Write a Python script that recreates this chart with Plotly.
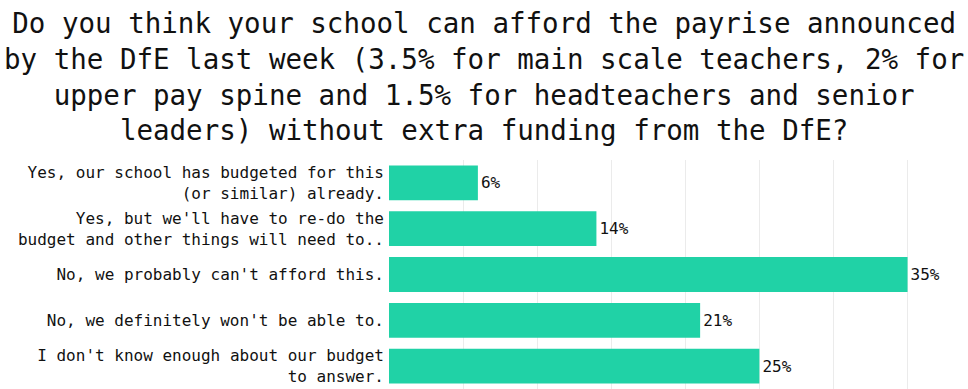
import plotly.graph_objects as go

# Survey answers (top to bottom) and share of respondents, in percent
answers = [
    "Yes, our school has budgeted for this<br>(or similar) already.",
    "Yes, but we'll have to re-do the<br>budget and other things will need to..",
    "No, we probably can't afford this.",
    "No, we definitely won't be able to.",
    "I don't know enough about our budget<br>to answer.",
]
shares = [6, 14, 35, 21, 25]

question = (
    "Do you think your school can afford the payrise announced<br>"
    "by the DfE last week (3.5% for main scale teachers, 2% for<br>"
    "upper pay spine and 1.5% for headteachers and senior<br>"
    "leaders) without extra funding from the DfE?"
)

MONO = "DejaVu Sans Mono, Liberation Mono, monospace"
W, H = 968, 389
M_L, M_R, M_T, M_B = 389, 16, 160, 0

fig = go.Figure(
    go.Bar(
        x=shares,
        y=answers,
        orientation="h",
        marker=dict(color="#20d2a6", line=dict(width=0)),
        texttemplate="%{x}%",
        textposition="outside",
        cliponaxis=False,
        textfont=dict(family=MONO, size=16, color="#111111"),
        hoverinfo="skip",
    )
)

# Question heading, centred on the whole page above the plot area
plot_w = W - M_L - M_R
plot_h = H - M_T - M_B
fig.add_annotation(
    text=question,
    xref="paper",
    yref="paper",
    x=(W / 2 - M_L) / plot_w,
    y=(H - M_B - 5) / plot_h,
    xanchor="center",
    yanchor="top",
    align="center",
    showarrow=False,
    font=dict(family=MONO, size=27.5, color="#111111"),
)

fig.update_layout(
    width=W,
    height=H,
    margin=dict(l=M_L, r=M_R, t=M_T, b=M_B),
    paper_bgcolor="white",
    plot_bgcolor="white",
    bargap=0.24,
    showlegend=False,
    font=dict(family=MONO, color="#111111"),
    xaxis=dict(
        range=[0, 38],
        dtick=5,
        showticklabels=False,
        showgrid=True,
        gridcolor="#ebebeb",
        gridwidth=1,
        zeroline=False,
        showline=False,
        fixedrange=True,
    ),
    yaxis=dict(
        autorange="reversed",
        showgrid=False,
        zeroline=False,
        showline=False,
        ticks="",
        ticklabelstandoff=4,
        tickfont=dict(family=MONO, size=16, color="#111111"),
        fixedrange=True,
    ),
)

fig.write_html("out.html")
